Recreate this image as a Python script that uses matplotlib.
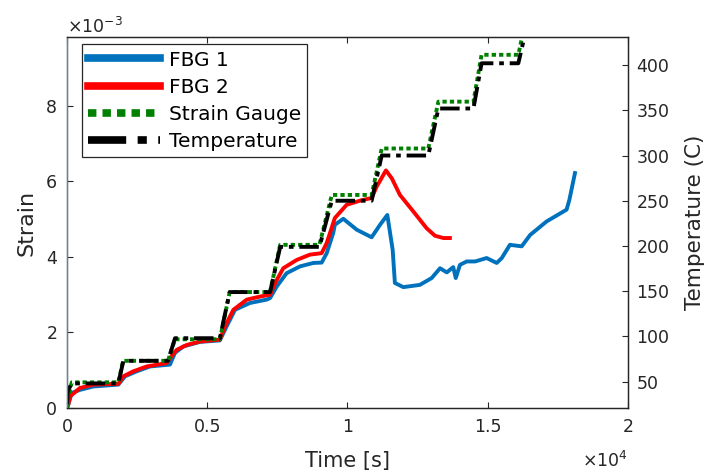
import matplotlib
matplotlib.use("Agg")
import matplotlib.pyplot as plt
from matplotlib.ticker import FuncFormatter, MultipleLocator

plt.rcParams['font.family'] = ['DejaVu Sans']

# FBG 1 (strain)
t_fbg1 = [0, 50, 170, 460, 940, 1830, 2070, 2480, 2960, 3670, 3850, 4150, 4740, 5450,
          5690, 5990, 6520, 7120, 7240, 7480, 7830, 8310, 8780, 9080, 9260, 9490, 9550,
          9850, 10330, 10860, 11160, 11420, 11610, 11690, 11990, 12580, 13000, 13300,
          13540, 13770, 13860, 14010, 14250, 14550, 14960, 15320, 15500, 15790, 16210,
          16510, 17100, 17810, 17910, 18110]
s_fbg1 = [0, 0.00010, 0.00040, 0.00048, 0.00057, 0.00062, 0.00084, 0.00097, 0.00110,
          0.00115, 0.00146, 0.00163, 0.00175, 0.00179, 0.00216, 0.00260, 0.00278, 0.00287,
          0.00291, 0.00322, 0.00357, 0.00375, 0.00384, 0.00385, 0.00410, 0.00463, 0.00485,
          0.00501, 0.00472, 0.00452, 0.00485, 0.00511, 0.00419, 0.00331, 0.00320, 0.00326,
          0.00344, 0.00370, 0.00359, 0.00373, 0.00344, 0.00379, 0.00388, 0.00388, 0.00397,
          0.00384, 0.00397, 0.00432, 0.00428, 0.00458, 0.00494, 0.00525, 0.00551, 0.00622]

# FBG 2 (strain)
t_fbg2 = [0, 50, 110, 460, 940, 1830, 2010, 2360, 2840, 3550, 3670, 3910, 4270, 4740,
          5450, 5630, 5930, 6410, 6880, 7240, 7420, 7710, 8190, 8660, 9080, 9260, 9550,
          9970, 10450, 10860, 11040, 11370, 11580, 11870, 12350, 12820, 13120, 13420, 13650]
s_fbg2 = [0, 0.00010, 0.00031, 0.00053, 0.00062, 0.00064, 0.00084, 0.00097, 0.00110,
          0.00119, 0.00132, 0.00154, 0.00167, 0.00176, 0.00181, 0.00216, 0.00260, 0.00287,
          0.00295, 0.00300, 0.00331, 0.00370, 0.00392, 0.00406, 0.00410, 0.00437, 0.00503,
          0.00538, 0.00549, 0.00556, 0.00586, 0.00629, 0.00608, 0.00564, 0.00520, 0.00476,
          0.00456, 0.00450, 0.00450]

# Strain gauge
t_gauge = [0, 50, 170, 1830, 2000, 3600, 3850, 5450, 5800, 7240, 7600, 9000, 9440,
           10860, 11220, 12880, 13240, 14490, 14780, 16090, 16450]
s_gauge = [0, 0.00030, 0.00068, 0.00068, 0.00125, 0.00125, 0.00182, 0.00182, 0.00307,
           0.00307, 0.00432, 0.00432, 0.00564, 0.00564, 0.00687, 0.00687, 0.00811,
           0.00811, 0.00935, 0.00935, 0.01060]

# Temperature
t_temp = [0, 30, 170, 1830, 2010, 3600, 3850, 5450, 5800, 7240, 7600, 9000, 9440,
          10860, 11220, 12880, 13240, 14490, 14780, 16090, 16450]
temp = [25, 40, 48, 48, 73, 73, 98, 98, 149, 149, 199, 199, 250, 250, 300, 300, 352,
        352, 402, 402, 450]

txt = '#262626'

fig = plt.figure(figsize=(7.06, 4.75), dpi=100)
ax = fig.add_axes([0.0949, 0.141, 0.7946, 0.781])
ax2 = ax.twinx()

l1, = ax.plot(t_fbg1, s_fbg1, color='#0072BD', lw=2.8)
l2, = ax.plot(t_fbg2, s_fbg2, color='#FF0000', lw=2.8)
l3, = ax.plot(t_gauge, s_gauge, color='#008000', lw=2.8, dashes=(1.1, 0.8))
l4, = ax2.plot(t_temp, temp, color='black', lw=2.8, dashes=(5, 1.5, 1.2, 1.5))

ax.set_xlim(0, 20000)
ax.set_ylim(0, 0.00982)
ax2.set_ylim(20.8, 431)

ax.xaxis.set_major_locator(MultipleLocator(5000))
ax.yaxis.set_major_locator(MultipleLocator(0.002))
ax.xaxis.set_major_formatter(FuncFormatter(lambda v, p: '%g' % (v / 1e4)))
ax.yaxis.set_major_formatter(FuncFormatter(lambda v, p: '%g' % round(v * 1e3, 6)))
ax2.set_yticks([50, 100, 150, 200, 250, 300, 350, 400])

ax.tick_params(axis='x', direction='in', top=True, labelsize=12.5, colors=txt,
               length=4, pad=7)
ax.tick_params(axis='y', direction='in', labelsize=12.5, colors=txt, length=4, pad=7)
ax2.tick_params(axis='y', direction='in', labelsize=12.5, colors=txt, length=4, pad=6)

for a in (ax, ax2):
    for s in a.spines.values():
        s.set_color(txt)
        s.set_linewidth(0.9)
ax2.spines['left'].set_color('#5b86a8')

ax.set_xlabel('Time [s]', fontsize=15, color=txt, labelpad=11)
ax.set_ylabel('Strain', fontsize=16, color=txt, labelpad=7)
ax2.set_ylabel('Temperature (C)', fontsize=15.5, color=txt, labelpad=11)

ax.text(0.0, 1.0, '×10$^{-3}$', transform=ax.transAxes, ha='left', va='bottom',
        fontsize=12.5, color=txt)
ax.text(1.0, -0.115, '×10$^{4}$', transform=ax.transAxes, ha='right', va='top',
        fontsize=12.5, color=txt)

leg = ax2.legend([l1, l2, l3, l4], ['FBG 1', 'FBG 2', 'Strain Gauge', 'Temperature'],
                 loc='upper left', bbox_to_anchor=(0.026, 0.98), fontsize=14.5,
                 fancybox=False, framealpha=1, edgecolor=txt, handlelength=3.6,
                 borderpad=0.3, labelspacing=0.4, handletextpad=0.42,
                 borderaxespad=0)
leg.get_frame().set_linewidth(0.9)
for h in leg.legend_handles:
    h.set_linewidth(5.5)

fig.savefig('out.png', dpi=100)
